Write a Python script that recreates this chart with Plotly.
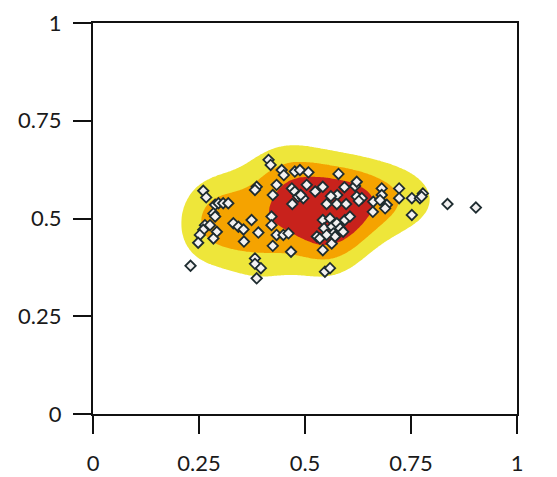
import numpy as np
import plotly.graph_objects as go

# Scatter points
pts_x = [0.414, 0.419, 0.445, 0.450, 0.476, 0.488, 0.508, 0.579, 0.386, 0.382,
         0.433, 0.424, 0.469, 0.476, 0.504, 0.524, 0.542, 0.484, 0.496, 0.470,
         0.551, 0.576, 0.575, 0.597, 0.593, 0.618, 0.622, 0.622, 0.634, 0.661,
         0.660, 0.681, 0.681, 0.677, 0.693, 0.689, 0.722, 0.722, 0.752, 0.752,
         0.771, 0.778, 0.775, 0.836, 0.903, 0.260, 0.267, 0.288, 0.296, 0.307,
         0.319, 0.284, 0.288, 0.264, 0.276, 0.260, 0.252, 0.248, 0.292, 0.284,
         0.230, 0.331, 0.343, 0.355, 0.374, 0.356, 0.390, 0.421, 0.421, 0.424,
         0.433, 0.449, 0.461, 0.467, 0.382, 0.382, 0.396, 0.386, 0.528, 0.542,
         0.545, 0.559, 0.564, 0.567, 0.575, 0.583, 0.590, 0.594, 0.606, 0.542,
         0.563, 0.571, 0.547, 0.559, 0.535, 0.551, 0.561, 0.627, 0.490]
pts_y = [0.650, 0.637, 0.624, 0.611, 0.620, 0.624, 0.618, 0.614, 0.581, 0.573,
         0.586, 0.560, 0.577, 0.569, 0.586, 0.569, 0.581, 0.556, 0.552, 0.537,
         0.537, 0.560, 0.537, 0.537, 0.580, 0.583, 0.594, 0.556, 0.552, 0.543,
         0.517, 0.577, 0.560, 0.547, 0.535, 0.526, 0.577, 0.552, 0.552, 0.509,
         0.552, 0.564, 0.556, 0.537, 0.528, 0.571, 0.554, 0.535, 0.539, 0.539,
         0.539, 0.513, 0.505, 0.483, 0.483, 0.471, 0.458, 0.438, 0.466, 0.449,
         0.379, 0.488, 0.479, 0.472, 0.496, 0.441, 0.464, 0.505, 0.483, 0.430,
         0.458, 0.458, 0.462, 0.415, 0.398, 0.384, 0.373, 0.347, 0.454, 0.496,
         0.475, 0.500, 0.479, 0.462, 0.488, 0.475, 0.466, 0.496, 0.505, 0.419,
         0.436, 0.454, 0.364, 0.373, 0.449, 0.458, 0.557, 0.545, 0.560]

tick_vals = [0, 0.25, 0.5, 0.75, 1]
tick_text = ["0", "0.25", "0.5", "0.75", "1"]

# density level thresholds (fraction of peak): yellow, orange, red
thresholds = [0.29, 0.51, 0.715]
band_colors = ["#ffffff", "#EEE63A", "#F5A300", "#C8221C"]

# Kernel density estimate on a grid
gx = np.linspace(0, 1, 241)
gy = np.linspace(0, 1, 241)
GX, GY = np.meshgrid(gx, gy)
hx, hy = 0.065, 0.075
D = np.zeros_like(GX)
for xi, yi in zip(pts_x, pts_y):
    D += np.exp(-0.5 * ((GX - xi) / hx) ** 2 - 0.5 * ((GY - yi) / hy) ** 2)
D /= D.max()
Z = np.interp(D, [0.0] + thresholds + [1.0], [0, 1, 2, 3, 4])

fig = go.Figure()
fig.add_trace(go.Contour(
    x=gx, y=gy, z=Z,
    contours=dict(start=1, end=3, size=1, coloring="fill", showlines=False),
    colorscale=[[0, band_colors[0]], [1/3, band_colors[1]],
                [2/3, band_colors[2]], [1, band_colors[3]]],
    showscale=False, hoverinfo="skip", line=dict(width=0, smoothing=1.3),
))
fig.add_trace(go.Scatter(
    x=pts_x, y=pts_y, mode="markers",
    marker=dict(symbol="diamond", size=8, color="#f3f1f1",
                line=dict(color="#1e2c30", width=1.8)),
    showlegend=False,
))

axis_common = dict(
    range=[0, 1], showgrid=False, zeroline=False, automargin=False,
    showline=True, linecolor="#111111", linewidth=2, mirror=True,
    ticks="outside", ticklen=18, tickwidth=2, tickcolor="#111111",
    tickvals=tick_vals, ticktext=tick_text,
    tickfont=dict(family="Lato", size=22, color="#1a1a1a"),
)
fig.update_xaxes(**axis_common, ticklabelstandoff=11)
fig.update_yaxes(**axis_common, ticklabelstandoff=7)
# the page adds an 8px body margin, so the figure is sized to fit the window
fig.update_layout(
    width=549, height=469,
    margin=dict(l=85, r=40, t=15, b=63),
    plot_bgcolor="white", paper_bgcolor="white",
    showlegend=False,
)
fig.write_html("out.html")
